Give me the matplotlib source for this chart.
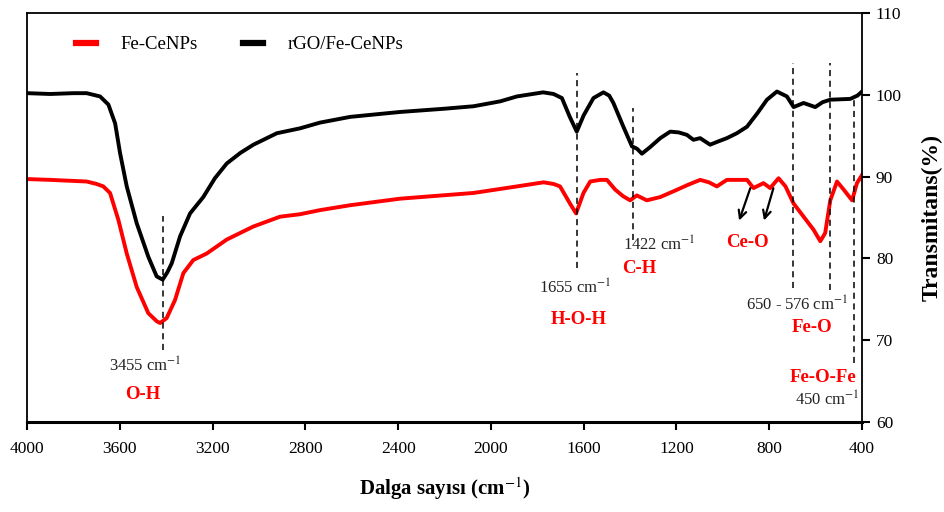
import matplotlib
matplotlib.use("Agg")
import matplotlib.pyplot as plt

plt.rcParams['font.family'] = ['Liberation Serif', 'DejaVu Serif']
plt.rcParams['mathtext.fontset'] = 'stix'

# rGO/Fe-CeNPs (siyah)
wn_black = [4000, 3900, 3800, 3743, 3685, 3649, 3620, 3599, 3570, 3527, 3477, 3441, 3415, 3395,
            3376, 3340, 3297, 3240, 3190, 3139, 3080, 3024, 2923, 2823, 2737, 2607, 2500, 2392,
            2200, 2075, 1960, 1888, 1775, 1730, 1694, 1660, 1630, 1600, 1558, 1515, 1490, 1472,
            1429, 1392, 1370, 1349, 1314, 1270, 1227, 1190, 1155, 1127, 1098, 1055, 1020, 983,
            940, 896, 850, 810, 767, 724, 695, 652, 602, 570, 537, 451, 420, 400]
t_black = [100.2, 100.1, 100.2, 100.2, 99.8, 98.8, 96.5, 92.9, 88.8, 84.3, 80.2, 77.8, 77.4, 78.3,
           79.4, 82.7, 85.5, 87.5, 89.8, 91.6, 92.9, 93.9, 95.3, 95.9, 96.6, 97.3, 97.6, 97.9,
           98.3, 98.6, 99.2, 99.8, 100.3, 100.1, 99.6, 97.3, 95.5, 97.5, 99.6, 100.3, 99.9, 99.0,
           96.1, 93.7, 93.4, 92.8, 93.6, 94.7, 95.5, 95.4, 95.1, 94.5, 94.7, 93.9, 94.3, 94.7,
           95.3, 96.1, 97.8, 99.4, 100.4, 99.8, 98.5, 99.0, 98.5, 99.1, 99.4, 99.5, 99.9, 100.4]

# Fe-CeNPs (kirmizi)
wn_red = [4000, 3900, 3743, 3700, 3671, 3642, 3606, 3570, 3527, 3477, 3440, 3426, 3398, 3362,
          3326, 3283, 3225, 3139, 3024, 2909, 2823, 2737, 2607, 2392, 2075, 1888, 1773, 1730,
          1702, 1659, 1633, 1601, 1572, 1529, 1500, 1464, 1430, 1400, 1371, 1328, 1270, 1213,
          1150, 1098, 1060, 1026, 983, 896, 868, 825, 796, 760, 730, 695, 652, 609, 580, 559,
          537, 508, 479, 443, 422, 400]
t_red = [89.7, 89.6, 89.4, 89.1, 88.8, 88.0, 84.7, 80.6, 76.5, 73.3, 72.3, 72.1, 72.7, 74.9,
         78.2, 79.8, 80.6, 82.3, 83.9, 85.1, 85.4, 85.9, 86.5, 87.3, 88.0, 88.8, 89.3, 89.1,
         88.8, 86.7, 85.5, 88.0, 89.4, 89.6, 89.6, 88.4, 87.6, 87.1, 87.7, 87.1, 87.5, 88.2,
         89.0, 89.6, 89.3, 88.8, 89.6, 89.6, 88.6, 89.2, 88.6, 89.8, 88.8, 86.7, 85.1, 83.5,
         82.1, 83.1, 87.1, 89.4, 88.4, 87.1, 89.2, 90.2]

# kesikli cizgiler: konum, alt, ust
vline_x = [3415, 1628, 1387, 697, 537, 434]
vline_lo = [68.8, 78.8, 82.2, 76.4, 76.1, 67.2]
vline_hi = [85.2, 102.7, 98.4, 103.9, 103.9, 99.4]

# etiketler
peak_text = ["3455 cm$^{-1}$", "1655 cm$^{-1}$", "1422 cm$^{-1}$", "650 - 576 cm$^{-1}$", "450 cm$^{-1}$"]
peak_x = [3491, 1637, 1275, 680, 550]
peak_y = [66.8, 76.4, 81.6, 74.3, 62.7]
bond_text = ["O-H", "H-O-H", "C-H", "Ce-O", "Fe-O", "Fe-O-Fe"]
bond_x = [3500, 1620, 1361, 895, 615, 567]
bond_y = [63.4, 72.5, 78.8, 82.0, 71.6, 65.4]

# Ce-O oklari
arrow_tail = [(878, 88.9), (779, 88.9)]
arrow_head = [(934, 84.3), (826, 84.3)]

fig = plt.figure(figsize=(9.44, 5.12), dpi=100)
ax = fig.add_axes([0.0286, 0.1758, 0.8846, 0.7988])

ax.plot(wn_red, t_red, color='#ff0000', lw=2.8, label='Fe-CeNPs', solid_joinstyle='round')
ax.plot(wn_black, t_black, color='black', lw=2.8, label='rGO/Fe-CeNPs', solid_joinstyle='round')

for x, lo, hi in zip(vline_x, vline_lo, vline_hi):
    ax.plot([x, x], [lo, hi], color='black', lw=1.1, ls=(0, (4, 3)))

for s, x, y in zip(peak_text, peak_x, peak_y):
    ax.text(x, y, s, ha='center', va='center', fontsize=12, color='#222222')
for s, x, y in zip(bond_text, bond_x, bond_y):
    ax.text(x, y, s, ha='center', va='center', fontsize=13.5, color='#ff0000', fontweight='bold')

for t, h in zip(arrow_tail, arrow_head):
    ax.annotate('', xy=h, xytext=t,
                arrowprops=dict(arrowstyle='->', color='black', lw=1.6, mutation_scale=14))

ax.set_xlim(4000, 400)
ax.set_ylim(60, 110)
ax.set_xticks([4000, 3600, 3200, 2800, 2400, 2000, 1600, 1200, 800, 400])
ax.set_yticks([60, 70, 80, 90, 100, 110])
ax.yaxis.tick_right()
ax.yaxis.set_label_position('right')
ax.tick_params(axis='both', direction='out', length=6, width=1.5, labelsize=12.5, pad=8)
ax.tick_params(axis='y', pad=4)

for side in ['left', 'top', 'right']:
    ax.spines[side].set_linewidth(1.3)
ax.spines['bottom'].set_linewidth(2.2)

ax.set_xlabel('Dalga sayısı (cm$^{-1}$)', fontsize=15, fontweight='bold', labelpad=13)
ax.set_ylabel('Transmitans(%)', fontsize=17, fontweight='bold', labelpad=14)

ax.legend(loc='upper left', bbox_to_anchor=(0.038, 0.985), ncol=2, frameon=False, fontsize=13.5,
          handlelength=1.1, handletextpad=1.3, columnspacing=2.4)
leg = ax.get_legend()
for line in leg.get_lines():
    line.set_linewidth(4.5)

fig.savefig('out.png', dpi=100)
